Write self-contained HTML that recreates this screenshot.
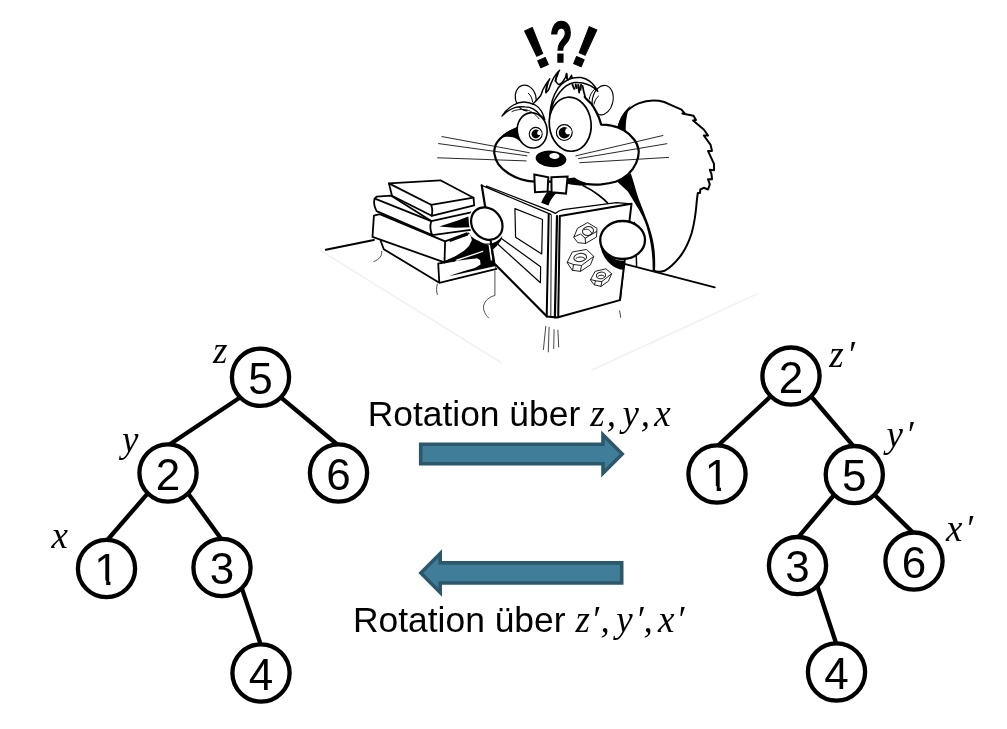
<!DOCTYPE html>
<html lang="de">
<head>
<meta charset="utf-8">
<title>Rotation</title>
<style>
html,body{margin:0;padding:0;background:#fff;}
body{width:1007px;height:729px;overflow:hidden;position:relative;}
svg{position:absolute;left:0;top:0;display:block;will-change:transform;}
.num{font-family:"Liberation Sans",Arial,sans-serif;font-size:44px;fill:#000;text-anchor:middle;}
.lbl{font-family:"Liberation Sans",Arial,sans-serif;font-size:35.4px;fill:#000;}
.mi{font-family:"Liberation Serif","DejaVu Serif",serif;font-style:italic;font-size:37px;fill:#000;}
.node{fill:#fff;stroke:#000;stroke-width:4.3;}
.edge{stroke:#000;stroke-width:4.3;fill:none;}
.bang{font-family:"Liberation Sans",Arial,sans-serif;font-weight:bold;fill:#000;text-anchor:middle;}
</style>
</head>
<body>
<svg id="art" width="1007" height="729" viewBox="0 0 1007 729">
<defs><clipPath id="c1"><path d="M-20 -40 H20 V-4.4 H3.95 V2 H-0.3 V-4.4 H-20 Z"/></clipPath></defs>
<!-- ===== TREES ===== -->
<g id="edges">
<line class="edge" x1="241.1" y1="396.7" x2="168.0" y2="445.5"/>
<line class="edge" x1="279.9" y1="396.7" x2="338.5" y2="445.5"/>
<line class="edge" x1="148.6" y1="492.4" x2="106.5" y2="541.0"/>
<line class="edge" x1="187.4" y1="492.4" x2="222.0" y2="540.0"/>
<line class="edge" x1="241.4" y1="586.9" x2="261.0" y2="645.5"/>
<line class="edge" x1="771.6" y1="395.5" x2="717.0" y2="446.5"/>
<line class="edge" x1="810.4" y1="395.5" x2="854.3" y2="447.1"/>
<line class="edge" x1="834.9" y1="494.0" x2="797.5" y2="538.1"/>
<line class="edge" x1="873.7" y1="494.0" x2="914.0" y2="533.6"/>
<line class="edge" x1="816.9" y1="585.0" x2="836.5" y2="644.5"/>
</g>
<g id="nodes">
<circle class="node" cx="260.5" cy="377.3" r="28.6"/>
<circle class="node" cx="168" cy="473" r="28.6"/>
<circle class="node" cx="338.5" cy="473" r="28.6"/>
<circle class="node" cx="106.5" cy="568.5" r="28.6"/>
<circle class="node" cx="222" cy="567.5" r="28.6"/>
<circle class="node" cx="261" cy="673" r="28.6"/>
<circle class="node" cx="791" cy="376.1" r="28.6"/>
<circle class="node" cx="717" cy="474" r="28.6"/>
<circle class="node" cx="854.3" cy="474.6" r="28.6"/>
<circle class="node" cx="797.5" cy="565.6" r="28.6"/>
<circle class="node" cx="914" cy="561.1" r="28.6"/>
<circle class="node" cx="836.5" cy="672" r="28.6"/>
</g>
<g id="nums">
<text class="num" x="260.5" y="393.8">5</text>
<text class="num" x="168" y="489.5">2</text>
<text class="num" x="338.5" y="489.5">6</text>
<g transform="translate(106.5 585.0)"><text class="num" x="0" y="0" clip-path="url(#c1)">1</text></g>
<text class="num" x="222" y="584.0">3</text>
<text class="num" x="261" y="689.5">4</text>
<text class="num" x="791" y="392.6">2</text>
<g transform="translate(717 490.5)"><text class="num" x="0" y="0" clip-path="url(#c1)">1</text></g>
<text class="num" x="854.3" y="491.1">5</text>
<text class="num" x="797.5" y="582.1">3</text>
<text class="num" x="914" y="577.6">6</text>
<text class="num" x="836.5" y="688.5">4</text>
</g>
<g id="labels">
<text class="mi" x="213" y="363">z</text>
<text class="mi" x="122" y="452">y</text>
<text class="mi" x="51.5" y="548">x</text>
<text class="mi" x="829.3" y="367">z<tspan dx="3">′</tspan></text>
<text class="mi" x="886.5" y="447">y<tspan dx="2.5">′</tspan></text>
<text class="mi" x="946" y="541">x<tspan dx="2.5">′</tspan></text>
</g>
<!-- ===== ARROWS ===== -->
<g id="arrows" fill="#407d98" stroke="#2c586c" stroke-width="3.6" stroke-linejoin="miter" stroke-miterlimit="10">
<path d="M420.7 444.2 H603 V434.8 L622.2 454 L603 473.2 V463.7 H420.7 Z"/>
<path d="M621.7 562.9 H440.2 V553.6 L420.85 573 L440.2 592.4 V583 H621.7 Z"/>
</g>
<g id="captions">
<text class="lbl" x="367.7" y="425.5">Rotation über <tspan class="mi" x="590.2">z</tspan><tspan class="mi" x="606.8">,</tspan><tspan class="mi" x="622.5">y</tspan><tspan class="mi" x="640.8">,</tspan><tspan class="mi" x="654.3">x</tspan></text>
<text class="lbl" x="353" y="631.5">Rotation über <tspan class="mi" x="575.5">z<tspan dx="1.2">′</tspan></tspan><tspan class="mi" x="600.5">,</tspan><tspan class="mi" x="616.3">y<tspan dx="2.8">′</tspan></tspan><tspan class="mi" x="643.5">,</tspan><tspan class="mi" x="658">x<tspan dx="1.8">′</tspan></tspan></text>
</g>
<!-- ===== SQUIRREL ===== -->
<g id="squirrel" fill="none" stroke="#000" stroke-linecap="round" stroke-linejoin="round">
<!-- tail -->
<path id="tailfill" fill="#fff" stroke="none" d="M618.6 127 C621 116,628 108,638.6 103.4 C646 100.5,656 99.8,664.3 102 L671.2 105.1 L681.5 109.7 L684.5 113.2 L682.3 113.4 L693.5 115.7 L696 120 L693.1 120.5 L703.8 129.5 L708 135.5 L703.8 135.5 L710.6 144.9 L712 150.9 L708 150.9 L714 163.8 L714 170.3 L709.8 169.8 L711.5 174 L712 179.2 L708 179.2 L709.8 184.3 L708 189.5 L703.8 187.8 L700.3 189.5 L700 192.9 L697.8 192.9 L696.9 199.8 C696 212,694.5 223,691.7 233 C688.5 243,684.5 251,679.6 257.2 C675 263,670 268,664.5 270.8 C661 272,657 272,654 270.8 L640 230 L630 180 Z"/>
<path id="tail" stroke-width="2" d="M618.6 127 C621 116,628 108,638.6 103.4 C646 100.5,656 99.8,664.3 102 L671.2 105.1 L681.5 109.7 L684.5 113.2 L682.3 113.4 L693.5 115.7 L696 120 L693.1 120.5 L703.8 129.5 L708 135.5 L703.8 135.5 L710.6 144.9 L712 150.9 L708 150.9 L714 163.8 L714 170.3 L709.8 169.8 L711.5 174 L712 179.2 L708 179.2 L709.8 184.3 L708 189.5 L703.8 187.8 L700.3 189.5 L700 192.9 L697.8 192.9 L696.9 199.8 C696 212,694.5 223,691.7 233 C688.5 243,684.5 251,679.6 257.2 C675 263,670 268,664.5 270.8 C661 272,657 272,654 270.8"/>
<path id="tailwedge" fill="#000" stroke="none" d="M617.6 126.6 C620 118,624 111,630.5 105.5 C627 112,625.5 121,625.8 131.5 Z"/>
<!-- body back line -->
<path id="back" fill="#000" stroke="none" d="M617 181.4 L630.8 173.2 C634 183,636 191,638.6 198.8 C643 210,646.5 219,648.6 224.7 C652 235,654 243,654.6 250.7 C655.3 258,655.3 265,655 271 L652.6 271 C652.8 264,652.4 257,651.6 250.7 C650.7 243,649 235,646.4 226 C643 216,639.5 210.5,636.6 206 C633 200,630.5 196,627.9 191.6 Z"/>
<path id="front" stroke-width="1.5" d="M634.3 222.5 C635.5 236,636.2 250,636.6 266.5"/>
<!-- ears -->
<ellipse cx="525.7" cy="98" rx="10.3" ry="13" transform="rotate(-14 525.7 98)" fill="#fff" stroke-width="1.1"/>
<path d="M528.4 93.2 C531 95.5,532.2 98.5,532.6 102" stroke-width="1"/>
<ellipse cx="602.7" cy="100.1" rx="10.3" ry="14.9" transform="rotate(12 602.7 100.1)" fill="#fff" stroke-width="1.1"/>
<path d="M594.5 89.3 C591.5 92,589.8 95.5,589.3 99.1 M598.6 96 C596 98,594.6 101,594 104.2" stroke-width="1"/>
<!-- head -->
<path id="headfill" fill="#fff" stroke="none" d="M517.3 128.2 C511 130.5,505 134,500.3 138.5 C497 142,495.4 144.5,495.2 146.7 C494 150,494 153,494.7 155 C495.3 158.5,496.5 161.5,498.3 164.2 C501 168,504.5 171,508.6 173.5 C512.5 176,516.5 177.8,520.9 179.2 C525.5 180.6,530 181.4,534.3 181.7 L567.2 181.7 C570 181.5,572.5 180.3,575.4 179.7 C579 181.8,582 183,585.7 183.8 C590.5 184.6,596 184.7,601.2 184.3 C606 183.8,611 183,615.6 181.7 C620 180,624.5 177.5,627.9 174.5 C631.5 171.2,634.3 167.5,636.1 163.2 C637.9 159,638.9 155,638.7 150.9 C638.3 146.8,636.8 143,634.1 139.5 C631.3 135.8,627.8 132.6,623.8 130.3 C620 128,615.5 126.4,611.4 125.7 C608 125,604.5 124.7,601.2 124.6 C600 120,598.3 115.5,596 111.4 C594.5 108.5,592.8 105.8,590.9 103.2 C588.5 101,586 99,584.7 97 C583.5 94,582.6 91,582.1 87.8 L572 78.5 L566.6 74 L559.6 71 L549.7 79.5 L540.6 95.7 L532.8 104 C529 108,523 118,517.3 128.2 Z"/>
<path id="head" stroke-width="2.2" d="M517.3 128.2 C511 130.5,505 134,500.3 138.5 C497 142,495.4 144.5,495.2 146.7 C494 150,494 153,494.7 155 C495.3 158.5,496.5 161.5,498.3 164.2 C501 168,504.5 171,508.6 173.5 C512.5 176,516.5 177.8,520.9 179.2 C525.5 180.6,530 181.4,534.3 181.7 L567.2 181.7 C570 181.5,572.5 180.3,575.4 179.7 C579 181.8,582 183,585.7 183.8 C590.5 184.6,596 184.7,601.2 184.3 C606 183.8,611 183,615.6 181.7 C620 180,624.5 177.5,627.9 174.5 C631.5 171.2,634.3 167.5,636.1 163.2 C637.9 159,638.9 155,638.7 150.9 C638.3 146.8,636.8 143,634.1 139.5 C631.3 135.8,627.8 132.6,623.8 130.3 C620 128,615.5 126.4,611.4 125.7 C608 125,604.5 124.7,601.2 124.6 C600 120,598.3 115.5,596 111.4 C594.5 108.5,592.8 105.8,590.9 103.2 C588.5 101,586 99,584.7 97"/>

<!-- black cheek patch -->
<path fill="#000" stroke="none" d="M517.8 126.8 C510.5 129.5,504.5 133.2,499.6 138.6 C502.5 137.2,505.8 136.6,508.6 136.7 C511.5 136.8,514 137.3,516 138.4 C518.6 139.8,521 142.3,523.2 145.2 C519.5 139.8,517.4 133.5,517.8 126.8 Z"/>
<!-- eyes -->
<ellipse cx="532.2" cy="130.4" rx="14.9" ry="17.7" transform="rotate(-8 532.2 130.4)" fill="#fff" stroke-width="1.6"/>
<ellipse cx="570.2" cy="124.2" rx="20.9" ry="27.1" transform="rotate(-6 570.2 124.2)" fill="#fff" stroke-width="1.7"/>
<circle cx="535.7" cy="133.9" r="6.5" fill="#fff" stroke-width="1.1"/>
<circle cx="535.9" cy="134" r="4.4" fill="#000" stroke="none"/>
<circle cx="539.3" cy="132.9" r="2.2" fill="#fff" stroke="none"/>
<circle cx="564.3" cy="132.6" r="7.9" fill="#fff" stroke-width="1.2"/>
<circle cx="564.4" cy="132.8" r="5.7" fill="#000" stroke="none"/>
<circle cx="568.3" cy="131.2" r="3.1" fill="#fff" stroke="none"/>
<!-- eyebrows -->
<path fill="#fff" stroke-width="1.3" d="M502 116.1 C505 111,509 107.5,513.5 105 C517 103,520.5 102,523.8 102 C527.5 102,531 103,534.9 104.8 C538 106.5,540 108.8,541.5 111.4 C543 114,544 116.8,544.8 119.6 C542.5 116.5,541 115.5,539.8 114.7 C537.5 112,535.5 110.2,533.2 108.9 C530.5 107.5,528 107,525 106.9 C521.5 106.6,518.5 106.6,515.6 107.4 C510.5 109,506 112,502 116.1 Z"/>
<path stroke-width="0.9" d="M512 111.5 C516 109.6,520.5 109.2,525 109.6 C530 110.2,535 113.5,539 118.8"/>
<path fill="#fff" stroke-width="1.5" d="M549.7 114.7 C550.2 109.5,551 105,552.2 100.7 C553.6 96,555.5 92,557.9 88.3 C559.8 85.6,562 83.4,564.5 81.8 C567 80,569.8 78.7,572.7 78 C575.5 77.4,578.3 77.3,581 77.6 C584 78.2,586.8 79.3,589.2 80.9 C591.5 82.5,593.4 84.5,595 86.7 C596.2 88.2,597.1 89.7,597.8 91.2 C595.8 89.2,593.4 87.4,590.8 85.9 C588.3 84.6,585.5 83.6,582.6 83 C580 82.5,577.2 82.4,574.4 82.6 C571.5 83.2,568.7 84.3,566.2 85.9 C563.7 87.7,561.5 89.9,559.6 92.5 C557.2 95.5,555.3 98.5,553.8 101.5 C552.3 105,551.2 109,550.5 113 Z"/>
<path stroke-width="2" stroke-linecap="round" d="M572.5 84.8 L574.3 88.8 M575.7 84.6 L576.4 88 M578.2 85 L579.2 92.4 M581 85 L580.4 89.8"/>
<path stroke-width="1.7" d="M582.6 85.9 C583.2 89.5,584 93,585.1 96.8"/>
<!-- hair tuft -->
<path stroke-width="1.5" d="M532.8 104 C535.5 101.5,538.2 98.6,540.6 95.7 C541.5 93.8,542.2 92,542.7 90 C544.8 86,547 82.3,549.7 78.9 C548.3 81.5,547.4 84,546.8 86.7 C546.3 88.7,546 90.6,546 92.5 C547.2 91.6,548.2 90.5,548.9 89.2 C550.2 85,551.8 81.2,553.8 77.6 C555.4 74.8,557.3 72.3,559.6 70.2 C558.3 72.3,557.4 74.5,556.7 76.8 C556.1 78.2,555.7 79.6,555.5 80.9 C556.3 82.4,557.4 83.7,558.7 84.6 C560 84.3,561.1 83.6,562 82.6 C563.3 81,564.4 79.4,565.3 77.6 C565.9 76.3,566.3 74.9,566.6 73.5 C566.6 75.2,566.7 76.9,567 78.5 C567.4 79.1,568 79.5,568.6 79.7 C569.8 78.4,570.8 76.9,571.5 75.2 C571.6 76.2,571.9 77.1,572.3 78"/>
<path stroke-width="1.8" d="M547.6 83.5 C546.6 86.5,546.1 89.5,546 92.5 M557.6 74 C556.4 76.3,555.7 78.6,555.5 80.9 M566.6 74 L567 78.5"/>
<!-- nose -->
<ellipse cx="551" cy="158.9" rx="15.4" ry="8.2" transform="rotate(5 551 158.9)" fill="#000" stroke="none"/>
<ellipse cx="554.4" cy="156" rx="5.1" ry="2.9" transform="rotate(4 554.4 156)" fill="#fff" stroke="none"/>
<!-- whiskers -->
<path stroke-width="0.9" stroke="#111" d="M442 136.6 L529.2 152.7 M438.6 143.6 L526.9 155.8 M437.6 157.8 L526.1 160.9 M575.9 155.8 L662.9 135.5 M578.5 158.6 L666.9 143.7 M579.8 162.7 L668.6 157.4"/>
<!-- teeth, neck, chest -->
<path fill="#000" stroke="none" d="M548.6 190.5 L557.8 192 C553 196,550 200.5,548.4 205.6 L541.2 202.8 C543 198,545.5 194,548.6 190.5 Z"/>
<path fill="#000" stroke="none" d="M566.5 178.6 L574.6 177.6 C578 180.6,581.5 182.4,585.7 183 L586.5 185.6 C580 186,573 185.2,566.5 183.6 Z"/>
<path stroke-width="1.6" d="M583.3 185.8 C589 188.5,594 191.5,598.5 195 C602.5 198,606 201,608.8 204.2"/>
<path fill="#fff" stroke-width="2" stroke-linejoin="miter" d="M534.3 174.4 L548.3 177.3 L547.6 191.5 L535 192.3 Z"/>
<path fill="#fff" stroke-width="2" stroke-linejoin="miter" d="M551.4 177.3 L567.6 176.5 L566 193.6 L551.6 192.3 Z"/>
<!-- table -->
<path stroke="#f1f1f1" stroke-width="1.6" d="M320.6 250.6 L501 362.5 M757 294 L592 370"/>
<path stroke-width="2" d="M325.8 249.8 L373.9 240"/>
<path stroke-width="1.8" d="M624.3 263.8 L714.8 287.3"/>
<path stroke-width="1.4" d="M624 264.5 L620.3 300"/>
<path stroke-width="0.9" stroke="#3a3a3a" d="M381.7 251.3 C382.5 256,379 259.5,373.9 261.6 M437.3 284.2 C436.3 287.5,436.3 291,437.3 294.5 M494.9 270.8 L494.9 295.5 C489 297,485 300.5,483.6 305.8 C483.2 310.5,485 314.5,488.7 318"/>
<!-- books -->
<g id="books" stroke-width="1.8">
<path fill="#fff" d="M380.7 241 L383.8 249.2 L439.3 282.8 L496.5 268.9 L495 240 L445 235 Z" stroke="none"/>
<path fill="#000" stroke="none" d="M445.1 241.3 L466.6 233.1 L468.9 232.5 L471.3 236.6 L474.8 239 L482.9 243 L488.8 244.8 L494.6 245.4 L500.4 239.5 L496.3 244.8 L492.8 248.3 L494 262 L496.5 268.9 L439.3 282.8 L438 264 L444.5 261.1 Z"/>
<path fill="#fff" stroke="none" d="M445.1 241.3 L466.6 233.4 L470.1 234.3 L471.9 240.1 L469 245.9 L464.3 250.6 L455 256.4 L444.7 261.1 Z"/>
<path fill="#fff" stroke="none" d="M455 259.9 L483.5 250.6 L482.9 252 L457.3 260.7 Z"/>
<path fill="#fff" stroke="none" d="M438.6 263.7 L455 261.1 L477.1 258.2 L480 259.9 L480.6 264.6 L474.8 268.1 L464.3 271 L455 273.9 L449 276.3 L494.8 266.2 L496 269 L439.3 282.8 Z"/>
<!-- book 4 lines -->
<path d="M380.7 241 L383.8 249.2 L439.3 282.8 L496.5 268.9 M438.2 263.5 L439.3 282.8 M438.2 263.7 L455 260.5"/>
<!-- book 3 -->
<path fill="#fff" d="M373.9 215.7 L379.7 214.2 L445.1 241.3 L444.5 262.4 L372.5 236.9 Z"/>
<path d="M445.1 241.3 L466.6 233.3 M444.5 262.4 L456 257 M450.5 241 L467.5 234.6" />
<!-- book 2 -->
<path fill="#fff" stroke="none" d="M431.3 221.1 L471 212 L471 229.8 L432 235.2 Z"/>
<path fill="#000" stroke="none" d="M439.2 226.4 L458.5 220.2 L468.2 216.6 L470.4 227.2 L455 227.8 Z"/>
<path fill="#fff" d="M376.6 196.7 L391.2 195.7 L431.3 221.1 C429.8 226,430.2 231,432.2 235.2 L376.6 211.2 C374.4 207,373.6 202.5,374.5 198.8 Z"/>
<path d="M374.9 198.6 L431.3 221.1 L471 212.4 M432.2 235.2 L470.5 229.8"/>
<!-- book 1 -->
<path fill="#fff" d="M388.9 183.4 L440.4 180.3 L473.5 197.7 L474.2 205.4 L431.7 215.8 L392 195.7 Z"/>
<path d="M388.9 183.4 L431.1 204.8 L473.5 197.7 M431.1 204.8 C432.6 208.5,432.6 212,431.7 215.8"/>
</g>
<ellipse cx="486.8" cy="223.6" rx="17.2" ry="14.6" transform="rotate(50 486.8 223.6)" fill="#fff" stroke="#fff" stroke-width="4.8"/>
<path stroke="#fff" stroke-width="1.7" stroke-linecap="butt" d="M489.2 243.5 L491.6 260.5"/>
<!-- open book -->
<g id="obook">
<path fill="#fff" stroke="none" d="M481.7 185.3 L550.8 213.5 L616.4 202.6 L631.5 203.8 L619.9 300.1 L557.4 317.6 L546.7 316.7 L494.3 263.4 Z"/>
<path stroke-width="2.2" d="M481.7 185.3 L494.3 263.4 L546.7 316.3"/>
<path stroke-width="1.3" d="M481.7 185.3 L550.8 214.3 M486.5 186 L549 210.3 C551.5 211.3,553.5 212.3,555.2 213.4 C557.5 211.5,560 210.2,563.1 209.6 L616.4 202.6 L631.5 203.8"/>
<path stroke-width="1.2" d="M514.9 208.6 L542.5 219.5 L541.7 254 L515.6 237.3 Z M501.1 238.3 L540.6 266.7 L540.4 282.7 L497.4 243.8"/>
<path stroke-width="2" d="M548.7 214.6 L546.7 316.5 L557.4 317.6"/>
<path stroke-width="0.9" d="M551.3 215 L550.8 317.5"/>
<path stroke-width="2.2" d="M557 216 L554.9 317.5"/>
<path stroke-width="2" d="M559.8 216.1 L558.2 317.3 L619.9 300.1 L631.5 203.8 L559.8 216.1"/>
<!-- nuts -->
<g stroke-width="1" stroke="#222">
<path d="M573.9 237 L577.5 228.3 L587.6 222.6 L597 228.3 L596.5 237 L585.5 243.5 L578.2 242.7 Z M573.9 237 L580.5 234 L585.2 238.2 L585.5 243.5 M585.2 238.2 L596.5 231.5"/>
<ellipse cx="588" cy="231" rx="5.6" ry="4.3" transform="rotate(-15 588 231)"/>
<path d="M584.5 229.5 C587 228.5,590 229.5,591.5 233"/>
<path d="M567.3 262.2 L572.3 252 L586.5 249.4 L593.8 256.4 L590.5 264.8 L580.4 271.4 L572.6 270.3 Z M567.3 262.2 L573.5 264.5 L572.6 270.3 M573.5 264.5 L581.5 265.5 L580.4 271.4 M581.5 265.5 L593.8 256.4"/>
<ellipse cx="580.2" cy="257.5" rx="6.4" ry="4.1" transform="rotate(-8 580.2 257.5)"/>
<path d="M576 258.5 C578 256.5,582.5 256.3,584.8 258.5"/>
<path d="M590.6 279.5 L595.2 271.3 L605.9 268.8 L611.7 273.7 L608.4 281.2 L601 286.4 L594.4 284.8 Z M590.6 279.5 L595.5 280.8 L594.4 284.8 M595.5 280.8 L601.8 281.6 L601 286.4 M601.8 281.6 L611.7 273.7"/>
<ellipse cx="601" cy="275.4" rx="4.7" ry="3.3" transform="rotate(-8 601 275.4)"/>
<path d="M598 276.3 C599.5 274.8,602.5 274.7,604.2 276.2"/>
</g>
</g>
<!-- motion lines -->
<path stroke-width="0.9" stroke="#333" d="M545.8 326.4 L543.4 349.5 M549.1 327.2 L548.3 351.9 M554.1 329.7 L553.7 348.6 M557.9 330.2 L558.7 347 M619.6 310.8 L620.7 317.4"/>
<!-- paws -->
<path fill="#000" stroke="none" d="M483 242.5 C489 245,497 243.5,502.5 235.5 L501 240.5 L496.8 246 L493 249.5 L491.5 245.5 Z"/>
<ellipse cx="486.8" cy="223.6" rx="17.2" ry="14.6" transform="rotate(50 486.8 223.6)" fill="#fff" stroke-width="2.2"/>
<path fill="#000" stroke="none" d="M599.8 242 C600.5 252,605.5 261.5,613.5 266.5 C616.5 268.4,620 269.6,622.8 269.8 L625.2 260.5 C615 262,604.5 254,599.8 242 Z"/>
<ellipse cx="622.6" cy="240" rx="22.4" ry="19" fill="#fff" stroke-width="2.3"/>
<!-- !?! -->
<text class="bang" font-size="58.5" transform="translate(536.4 47.5) rotate(-23.7)" x="0" y="20.4">!</text>
<text class="bang" font-size="56.5" stroke="#000" stroke-width="1.6" stroke-linejoin="miter" transform="translate(561.3 61.8) scale(0.65 1)" x="0" y="0">?</text>
<text class="bang" font-size="58.5" transform="translate(585.5 46.4) rotate(22.9)" x="0" y="20.4">!</text>
</g>
</svg>
</body>
</html>
